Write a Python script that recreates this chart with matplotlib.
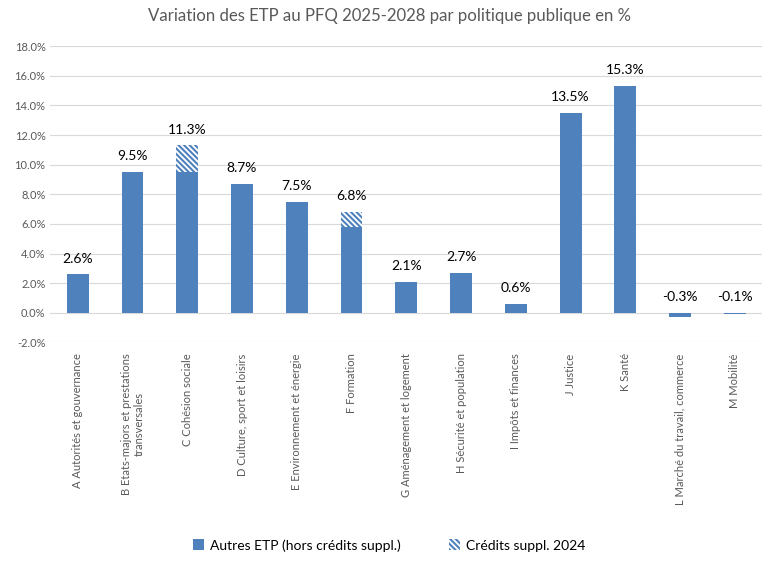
import matplotlib
matplotlib.use("Agg")
import matplotlib.pyplot as plt
from matplotlib.ticker import FuncFormatter, MultipleLocator

plt.rcParams['font.family'] = ['Lato', 'DejaVu Sans']
plt.rcParams['hatch.linewidth'] = 1.5

categories = [
    "A Autorités et gouvernance",
    "B Etats-majors et prestations\ntransversales",
    "C Cohésion sociale",
    "D Culture, sport et loisirs",
    "E Environnement et énergie",
    "F Formation",
    "G Aménagement et logement",
    "H Sécurité et population",
    "I Impôts et finances",
    "J Justice",
    "K Santé",
    "L Marché du travail, commerce",
    "M Mobilité",
]
autres = [2.6, 9.5, 9.5, 8.7, 7.5, 5.8, 2.1, 2.7, 0.6, 13.5, 15.3, -0.3, -0.1]
credits = [0, 0, 1.8, 0, 0, 1.0, 0, 0, 0, 0, 0, 0, 0]
totals = [2.6, 9.5, 11.3, 8.7, 7.5, 6.8, 2.1, 2.7, 0.6, 13.5, 15.3, -0.3, -0.1]

blue = "#4F81BD"

fig = plt.figure(figsize=(7.63, 5.64), dpi=100)
ax = fig.add_axes([0.066, 0.393, 0.933, 0.525])

x = list(range(len(categories)))
ax.bar(x, autres, width=0.4, color=blue, zorder=3, label="Autres ETP (hors crédits suppl.)")
ax.bar(x, credits, width=0.4, bottom=autres, color="white", edgecolor=blue,
       hatch="\\\\\\\\\\\\", linewidth=0, zorder=3, label="Crédits suppl. 2024")

for xi, t in zip(x, totals):
    ax.annotate(f"{t:.1f}%", (xi, max(t, 0)), xytext=(0, 7), textcoords="offset points",
                ha="center", va="bottom", fontsize=10, color="black")

ax.set_ylim(-2, 18)
ax.yaxis.set_major_locator(MultipleLocator(2))
ax.yaxis.set_major_formatter(FuncFormatter(lambda v, p: f"{v:.1f}%"))
ax.set_xlim(-0.5, len(categories) - 0.5)
ax.set_xticks(x)
ax.set_xticklabels(categories, rotation=90, fontsize=9, color="#404040", va="top", ha="center")
ax.tick_params(axis="both", length=0, colors="#595959", labelsize=8)
ax.tick_params(axis="x", pad=8)
ax.grid(axis="y", color="#D9D9D9", linewidth=0.8, zorder=0)
for s in ax.spines.values():
    s.set_visible(False)

fig.suptitle("Variation des ETP au PFQ 2025-2028 par politique publique en %",
             x=0.51, y=0.985, fontsize=12.1, color="#595959")

fig.legend(loc="lower center", bbox_to_anchor=(0.51, 0.0), ncol=2, frameon=False,
           fontsize=10, handlelength=0.8, handleheight=0.8, columnspacing=3.5,
           handletextpad=0.4)

fig.savefig("out.png", dpi=100)
